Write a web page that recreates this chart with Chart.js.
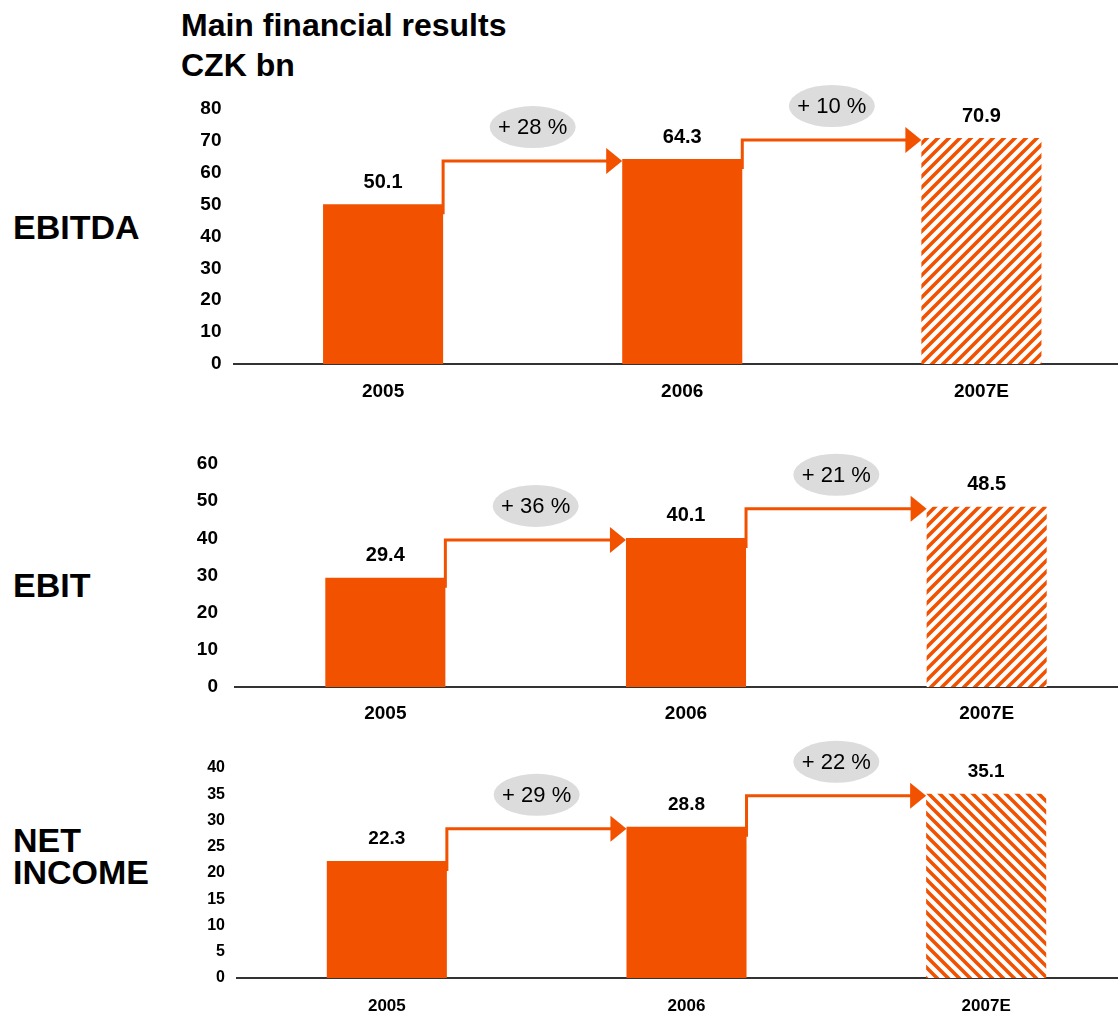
<!DOCTYPE html>
<html>
<head>
<meta charset="utf-8">
<title>Main financial results</title>
<script src="https://cdn.jsdelivr.net/npm/chart.js@4.4.0/dist/chart.umd.min.js"></script>
<style>
  html, body { margin: 0; padding: 0; background: #fff; }
  body { position: relative; width: 1118px; height: 1012px; overflow: hidden; font-family: "Liberation Sans", Arial, sans-serif; color: #000; }
  .title { position: absolute; left: 181px; top: 5px; font-size: 32px; line-height: 40px; font-weight: bold; }
  .row-label { position: absolute; left: 13px; font-size: 34px; line-height: 32px; font-weight: bold; }
  canvas { position: absolute; left: 0; }
</style>
</head>
<body>
<div class="title">Main financial results<br>CZK bn</div>
<div class="row-label" style="top:211px">EBITDA</div>
<div class="row-label" style="top:569px">EBIT</div>
<div class="row-label" style="top:824px">NET<br>INCOME</div>

<canvas id="chart-ebitda"></canvas>
<canvas id="chart-ebit"></canvas>
<canvas id="chart-net"></canvas>

<script>
// ---- data ----
var years = ['2005', '2006', '2007E'];

var ebitdaValues = [50.1, 64.3, 70.9];
var ebitValues = [29.4, 40.1, 48.5];
var netIncomeValues = [22.3, 28.8, 35.1];

var ebitdaGrowth = ['+ 28 %', '+ 10 %'];
var ebitGrowth = ['+ 36 %', '+ 21 %'];
var netIncomeGrowth = ['+ 29 %', '+ 22 %'];

var ebitdaTicks = [0, 10, 20, 30, 40, 50, 60, 70, 80];
var ebitTicks = [0, 10, 20, 30, 40, 50, 60];
var netIncomeTicks = [0, 5, 10, 15, 20, 25, 30, 35, 40];

// ---- styles ----
var ORANGE = '#f25100';
var FONT = '"Liberation Sans", Arial, sans-serif';
var PAD_TOP = 45;   // room above the plot for bubbles and labels
var AXIS_H = 45;    // height of the category axis strip

// diagonal stripes for the estimate bar
function hatch(dir) {
  var s = 11;
  var c = document.createElement('canvas');
  c.width = s; c.height = s;
  var g = c.getContext('2d');
  g.fillStyle = '#fff';
  g.fillRect(0, 0, s, s);
  g.strokeStyle = ORANGE;
  g.lineWidth = 3.6;
  g.beginPath();
  for (var k = -1; k <= 1; k++) {
    if (dir === '/') {
      g.moveTo(-s, s * (k + 1) + s); g.lineTo(2 * s, s * (k + 1) - 2 * s);
    } else {
      g.moveTo(-s, s * k - s); g.lineTo(2 * s, s * k + 2 * s);
    }
  }
  g.stroke();
  return g.createPattern(c, 'repeat');
}

// value labels, step arrows and growth bubbles
var growthPlugin = {
  id: 'growth',
  afterDatasetsDraw: function(chart, args, opts) {
    var ctx = chart.ctx;
    var bars = chart.getDatasetMeta(0).data;
    var values = chart.data.datasets[0].data;
    ctx.save();
    ctx.textAlign = 'center';
    ctx.textBaseline = 'middle';

    ctx.fillStyle = '#000';
    ctx.font = 'bold ' + opts.valueSize + 'px ' + FONT;
    bars.forEach(function(b, i) {
      ctx.fillText(values[i].toFixed(1), b.x, b.y - 22);
    });

    for (var i = 0; i < bars.length - 1; i++) {
      var a = bars[i], b = bars[i + 1];
      var sx = a.x + a.width / 2;
      var tx = b.x - b.width / 2;
      var ty = b.y + 2;

      ctx.strokeStyle = ORANGE;
      ctx.lineWidth = 3;
      ctx.beginPath();
      ctx.moveTo(sx, a.y + 10);
      ctx.lineTo(sx, ty);
      ctx.lineTo(tx - 14, ty);
      ctx.stroke();

      ctx.fillStyle = ORANGE;
      ctx.beginPath();
      ctx.moveTo(tx, ty);
      ctx.lineTo(tx - 16, ty - 13);
      ctx.lineTo(tx - 16, ty + 13);
      ctx.closePath();
      ctx.fill();

      var cx = (sx + tx) / 2, cy = ty - 34;
      ctx.fillStyle = '#dcdcdc';
      ctx.beginPath();
      ctx.ellipse(cx, cy, 43, 21, 0, 0, Math.PI * 2);
      ctx.fill();
      ctx.fillStyle = '#000';
      ctx.font = '22px ' + FONT;
      ctx.fillText(opts.growth[i], cx, cy + 1);
    }
    ctx.restore();
  }
};

function makeChart(id, values, ticks, growth, cfg) {
  var el = document.getElementById(id);
  el.width = Math.round(cfg.left + years.length * cfg.band);
  el.height = (cfg.bottom - cfg.top) + PAD_TOP + AXIS_H;
  el.style.top = (cfg.top - PAD_TOP) + 'px';

  return new Chart(el, {
    type: 'bar',
    data: {
      labels: years,
      datasets: [{
        data: values,
        backgroundColor: [ORANGE, ORANGE, hatch(cfg.hatch)],
        borderWidth: 0,
        barPercentage: 120 / cfg.band,
        categoryPercentage: 1
      }]
    },
    options: {
      responsive: false,
      animation: false,
      layout: { padding: { top: PAD_TOP, left: 0, right: 0, bottom: 0 } },
      plugins: {
        legend: { display: false },
        tooltip: { enabled: false },
        growth: { growth: growth, valueSize: cfg.valueSize }
      },
      scales: {
        x: {
          grid: { display: false, drawTicks: false },
          border: { display: true, color: '#333', width: 2 },
          ticks: { color: '#000', padding: cfg.xPad, font: { family: FONT, size: cfg.xSize, weight: 'bold' } },
          afterFit: function(s) { s.height = AXIS_H; }
        },
        y: {
          min: ticks[0],
          max: ticks[ticks.length - 1],
          grid: { display: false, drawTicks: false },
          border: { display: false },
          ticks: { color: '#000', padding: cfg.yPad, font: { family: FONT, size: cfg.ySize, weight: 'bold' } },
          afterBuildTicks: function(s) { s.ticks = ticks.map(function(v) { return { value: v }; }); },
          afterFit: function(s) { s.width = cfg.left; }
        }
      }
    },
    plugins: [growthPlugin]
  });
}

makeChart('chart-ebitda', ebitdaValues, ebitdaTicks, ebitdaGrowth,
  { top: 109, bottom: 364, left: 233.5, band: 299, hatch: '/', ySize: 19, yPad: 12, xSize: 19, xPad: 16, valueSize: 20 });
makeChart('chart-ebit', ebitValues, ebitTicks, ebitGrowth,
  { top: 464, bottom: 687, left: 235, band: 300.5, hatch: '/', ySize: 19, yPad: 17, xSize: 19, xPad: 15, valueSize: 20 });
makeChart('chart-net', netIncomeValues, netIncomeTicks, netIncomeGrowth,
  { top: 768, bottom: 978, left: 237, band: 299.5, hatch: '\\', ySize: 16, yPad: 12, xSize: 17, xPad: 18, valueSize: 19 });
</script>
</body>
</html>
